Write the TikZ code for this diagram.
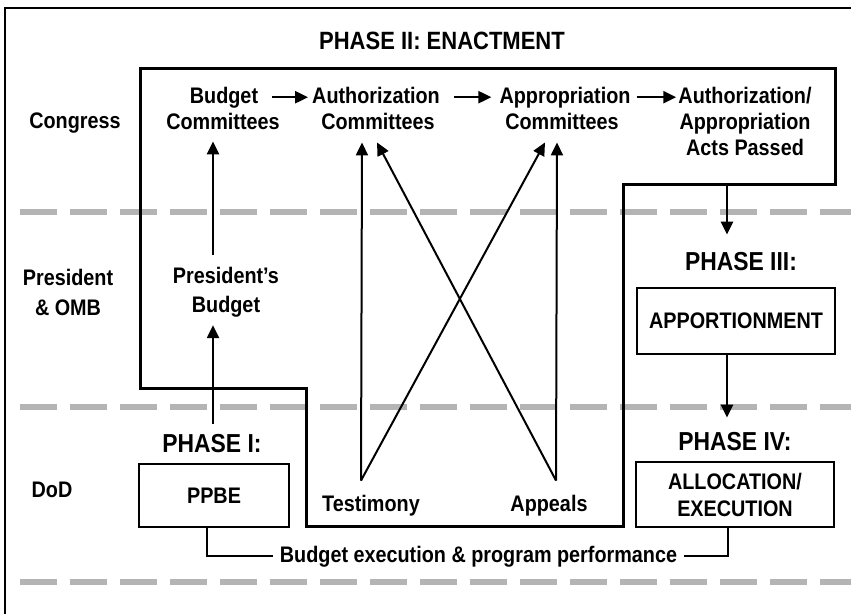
\documentclass[tikz,border=0pt]{standalone}
\usepackage{fontspec}
\setmainfont{Liberation Sans}[FakeStretch=0.88]
\usetikzlibrary{arrows.meta}
\definecolor{lanegray}{RGB}{180,180,180}

\begin{document}
\begin{tikzpicture}[x=1pt, y=-1pt,
  >={Triangle[length=13pt,width=12pt]},
  txt/.style={inner sep=0pt, anchor=base, font=\bfseries\fontsize{22.5}{27}\selectfont},
  ml/.style={txt, anchor=center, align=center},
  hd/.style={inner sep=0pt, anchor=base, font=\bfseries\fontsize{26}{30}\selectfont},
  phasebox/.style={draw, line width=1.6pt, inner sep=0pt, align=center, font=\bfseries\fontsize{22.5}{27}\selectfont},
  lane/.style={lanegray, line width=5.5pt, dash pattern=on 37pt off 13pt},
  arr/.style={->, line width=2.5pt},
  link/.style={->, line width=2pt}]

  \useasboundingbox (0,0) rectangle (851,614);

  %% lanes
  \foreach \y in {212,407,582}
    \draw[lane] (20,\y) -- (851,\y);
  \draw[line width=1.5pt] (851,8) -- (5,8) -- (5,614);

  %% phase II outline
  \draw[line width=3pt] (140,68) -- (835,68) -- (835,184) -- (623,184) -- (623,526)
    -- (306,526) -- (306,388) -- (140,388) -- cycle;
  \coordinate (stepc) at (727,184);

  \node[hd, font=\bfseries\fontsize{25}{28}\selectfont] (title) at (442,49) {PHASE II: ENACTMENT};

  \node[txt] (congress) at (75,128) {Congress};
  \node[ml, font=\bfseries\fontsize{22.5}{30}\selectfont] (pres) at (68,292.5) {President\\\& OMB};
  \node[txt] (dod) at (52,497) {DoD};

  \node[txt] (budA) at (224,103) {Budget};
  \node[txt] (budB) at (223,129) {Committees};
  \node[txt] (authA) at (376,103) {Authorization};
  \node[txt] (authB) at (378,129) {Committees};
  \node[txt] (apprA) at (565,103) {Appropriation};
  \node[txt] (apprB) at (562,129) {Committees};
  \node[txt] (actsA) at (745,103) {Authorization/};
  \node[txt] (actsB) at (745,129) {Appropriation};
  \node[txt] (actsC) at (745,155) {Acts Passed};

  \node[ml, font=\bfseries\fontsize{22.5}{29}\selectfont] (presbud) at (226,292) {President’s\\Budget};

  \node[hd] (phaseI) at (212,452) {PHASE I:};
  \node[phasebox, minimum width=150pt, minimum height=63pt] (ppbe) at (214,495.5) {PPBE};
  \node[txt] (testimony) at (371,511) {Testimony};
  \node[txt] (appeals) at (549,511) {Appeals};

  \node[hd] (phaseIII) at (741,270) {PHASE III:};
  \node[phasebox, minimum width=198pt, minimum height=66pt] (apport) at (736,321) {APPORTIONMENT};
  \node[hd] (phaseIV) at (735,450) {PHASE IV:};
  \node[phasebox, minimum width=198pt, minimum height=65pt] (alloc) at (735,494.5) {ALLOCATION/\\EXECUTION};

  \node[txt, inner xsep=7pt] (feedback) at (478.5,562) {Budget execution \& program performance};

  %% congress row
  \draw[arr, shorten <=14pt, shorten >=4pt] (budA.east) -- (budA.east -| authA.west); %% budget->auth
  \draw[arr, shorten <=14pt, shorten >=8pt] (authA.east |- apprA.west) -- (apprA.west); %% auth->appr
  \draw[arr, shorten <=6pt, shorten >=2pt] (apprA.east) -- (apprA.east -| actsA.west); %% appr->acts

  %% up to congress
  \draw[arr, shorten <=10pt, shorten >=8pt] ([xshift=1pt]phaseI.north) -- ([xshift=-13pt]presbud.south);
  \draw[arr, shorten <=12pt, shorten >=12pt] ([xshift=-13pt]presbud.north) -- ([xshift=-10pt]budB.south);

  \coordinate (tst) at ([xshift=-10pt,yshift=14pt]testimony.north);
  \coordinate (apl) at ([xshift=7pt,yshift=14pt]appeals.north);
  \draw[link] (tst) -- ([xshift=-16pt,yshift=-13pt]authB.south);
  \draw[link] (tst) -- ([xshift=-17pt,yshift=-13pt]apprB.south);
  \draw[link] (apl) -- ([xshift=-5pt,yshift=-13pt]apprB.south);
  \draw[link] (apl) -- ([xshift=-1pt,yshift=-13pt]authB.south);

  %% phases III, IV
  \draw[arr, shorten >=17pt] (stepc) -- (stepc |- phaseIII.north);
  \draw[arr, shorten >=14pt] (apport.south -| stepc) -- (stepc |- phaseIV.north);

  %% feedback
  \draw[line width=2pt] ([xshift=-7pt]ppbe.south) |- (feedback.west);
  \draw[line width=2pt] (feedback.east) -| ([xshift=-7pt]alloc.south);
\end{tikzpicture}
\end{document}
